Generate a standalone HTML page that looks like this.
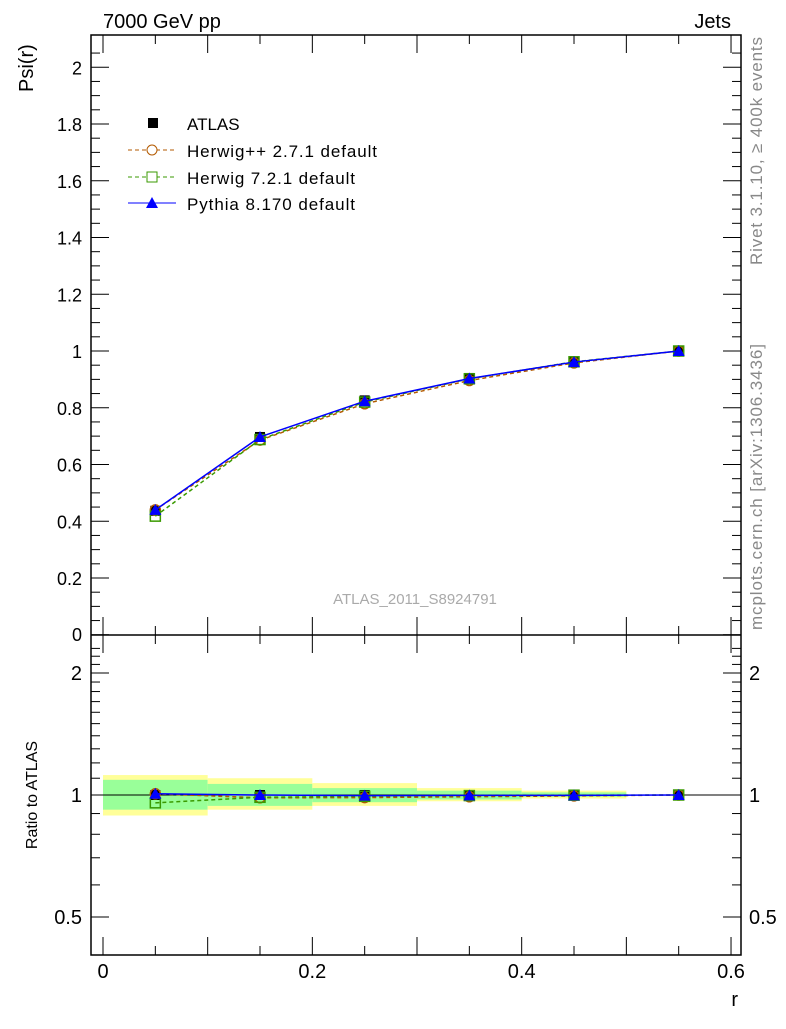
<!DOCTYPE html>
<html><head><meta charset="utf-8"><style>
body{margin:0;background:#fff;font-family:"Liberation Sans",sans-serif}
svg text{font-family:"Liberation Sans",sans-serif}
</style></head><body>
<svg id="c" width="786" height="1024" xmlns="http://www.w3.org/2000/svg">
<text x="103" y="28" font-size="20">7000 GeV pp</text>
<text x="731" y="28" font-size="20" text-anchor="end">Jets</text>
<text x="0" y="0" font-size="20" transform="translate(33,92) rotate(-90)">Psi(r)</text>
<text x="0" y="0" font-size="16" text-anchor="middle" transform="translate(37,795) rotate(-90)">Ratio to ATLAS</text>
<text x="738" y="1006" font-size="20" text-anchor="end">r</text>
<text x="0" y="0" font-size="17" fill="#888" textLength="228" transform="translate(762,265) rotate(-90)">Rivet 3.1.10, ≥ 400k events</text>
<text x="0" y="0" font-size="17" fill="#888" textLength="286" transform="translate(762,630) rotate(-90)">mcplots.cern.ch [arXiv:1306.3436]</text>
<text x="415" y="604" font-size="15" fill="#aaa" text-anchor="middle">ATLAS_2011_S8924791</text>
<g id="bands"></g>
<g id="axes"></g>
<g id="series"></g>
<g>
<rect x="148" y="118" width="10" height="10" fill="#000"/>
<text x="187" y="130" font-size="17">ATLAS</text>
<line x1="128" y1="150" x2="176" y2="150" stroke="#b35a00" stroke-dasharray="4,3"/>
<circle cx="152" cy="150" r="5" fill="#fff" stroke="#b35a00"/>
<text x="187" y="157" font-size="17" textLength="190">Herwig++ 2.7.1 default</text>
<line x1="128" y1="177" x2="176" y2="177" stroke="#3a9a00" stroke-dasharray="4,3"/>
<rect x="147" y="172" width="10" height="10" fill="#fff" stroke="#3a9a00"/>
<text x="187" y="184" font-size="17" textLength="168">Herwig 7.2.1 default</text>
<line x1="128" y1="203" x2="176" y2="203" stroke="#00f"/>
<polygon points="152,197 158,208 146,208" fill="#00f"/>
<text x="187" y="210" font-size="17" textLength="168">Pythia 8.170 default</text>
</g>
</svg>
<script>
const rVals=[0.05,0.15,0.25,0.35,0.45,0.55];
const atlas=[0.437,0.697,0.826,0.905,0.963,1.0];
const herwigpp=[0.440,0.686,0.814,0.896,0.958,1.0];
const herwig7=[0.418,0.688,0.820,0.902,0.962,1.0];
const pythia=[0.440,0.697,0.823,0.903,0.961,1.0];
const yellowUp=[1.12,1.10,1.07,1.04,1.025,1.0];
const yellowDn=[0.89,0.92,0.94,0.965,0.98,1.0];
const greenUp=[1.09,1.065,1.04,1.025,1.015,1.0];
const greenDn=[0.92,0.94,0.96,0.975,0.99,1.0];
const xTicks=[0,0.2,0.4,0.6];
const yTicks=[0.2,0.4,0.6,0.8,1,1.2,1.4,1.6,1.8,2];
const rTicks=[0.5,1,2];
const NS='http://www.w3.org/2000/svg';
const X0=91,X1=741,T=35,M=635,B=955;
const sx=v=>103+v*1046.7;
const sy=v=>634.75-v*283.75;
const sr=v=>795-122*Math.log2(v);
function mk(p,tag,at){const e=document.createElementNS(NS,tag);for(const k in at)e.setAttribute(k,at[k]);document.getElementById(p).appendChild(e);return e;}
for(let i=0;i<rVals.length;i++){
 const a=sx(rVals[i]-0.05),w=sx(rVals[i]+0.05)-a;
 let e=mk('bands','rect',{x:a,y:sr(yellowUp[i]),width:w,height:Math.max(0,sr(yellowDn[i])-sr(yellowUp[i])),fill:'#ffff99'});
 
 
 e=mk('bands','rect',{x:a,y:sr(greenUp[i]),width:w,height:Math.max(0,sr(greenDn[i])-sr(greenUp[i])),fill:'#99ff99'});
 
 
}
mk('axes','rect',{x:X0,y:T,width:X1-X0,height:B-T,fill:'none',stroke:'#000','stroke-width':1.5});
mk('axes','line',{x1:X0,y1:M,x2:X1,y2:M,stroke:'#000','stroke-width':1.5});
mk('axes','line',{x1:X0,y1:sr(1),x2:X1,y2:sr(1),stroke:'#000','stroke-width':1});
for(let v=0;v<=2.1;v+=0.05){const y=sy(v);if(y<T)continue;const maj=Math.abs(v*10-Math.round(v*10))<1e-6&&Math.round(v*10)%2==0;const L=maj?18:9;
 mk('axes','line',{x1:X0,y1:y,x2:X0+L,y2:y,stroke:'#000'});mk('axes','line',{x1:X1-L,y1:y,x2:X1,y2:y,stroke:'#000'});}
yTicks.forEach(v=>{const t=mk('axes','text',{x:82,y:sy(v)+7,'font-size':18,'text-anchor':'end'});t.textContent=String(v);
 
 });
let z=mk('axes','text',{x:82,y:641,'font-size':18,'text-anchor':'end'});z.textContent='0';
for(let v=0.4;v<=2.4;v+=0.1){const y=sr(v);if(y<M||y>B)continue;const maj=rTicks.some(t=>Math.abs(t-v)<1e-6);const L=maj?18:9;
 mk('axes','line',{x1:X0,y1:y,x2:X0+L,y2:y,stroke:'#000'});mk('axes','line',{x1:X1-L,y1:y,x2:X1,y2:y,stroke:'#000'});}
rTicks.forEach(v=>{let t=mk('axes','text',{x:82,y:sr(v)+7,'font-size':20,'text-anchor':'end'});t.textContent=String(v);
 
 
 t=mk('axes','text',{x:749,y:sr(v)+7,'font-size':20});t.textContent=String(v);
 
 });
for(let v=0;v<=0.62;v+=0.05){const x=sx(v);if(x>X1)continue;const maj=Math.round(v*100)%10==0;const L=maj?18:9;
 [T,M].forEach(y0=>mk('axes','line',{x1:x,y1:y0,x2:x,y2:y0+L,stroke:'#000'}));
 [M,B].forEach(y0=>mk('axes','line',{x1:x,y1:y0-L,x2:x,y2:y0,stroke:'#000'}));}
xTicks.forEach(v=>{const t=mk('axes','text',{x:sx(v),y:978,'font-size':20,'text-anchor':'middle'});t.textContent=String(v);
 
 });
function draw(vals,color,dash,marker,name){
 const pts=rVals.map((r,i)=>[sx(r),sy(vals[i])]);
 const rp=rVals.map((r,i)=>[sx(r),sr(vals[i]/atlas[i])]);
 [pts,rp].forEach((P,k)=>{
  if(color){const l=mk('series','polyline',{points:P.map(p=>p.join(',')).join(' '),fill:'none',stroke:color,'stroke-width':1.5,'stroke-dasharray':dash});
   
   }
  P.forEach(([x,y])=>{let e;
   if(marker=='sq')e=mk('series','rect',{x:x-5,y:y-5,width:10,height:10,fill:'#000'});
   else if(marker=='osq')e=mk('series','rect',{x:x-5,y:y-5,width:10,height:10,fill:'none',stroke:color,'stroke-width':1.5});
   else if(marker=='circ')e=mk('series','circle',{cx:x,cy:y,r:5,fill:'none',stroke:color,'stroke-width':1.5});
   else e=mk('series','polygon',{points:`${x},${y-6} ${x+6},${y+5} ${x-6},${y+5}`,fill:color});
   
   });
 });
}
draw(atlas,null,'','sq','atlas');
draw(herwigpp,'#b35a00','4,3','circ','herwigpp');
draw(herwig7,'#3a9a00','4,3','osq','herwig7');
draw(pythia,'#00f','','tri','pythia');
</script>
</body></html>
